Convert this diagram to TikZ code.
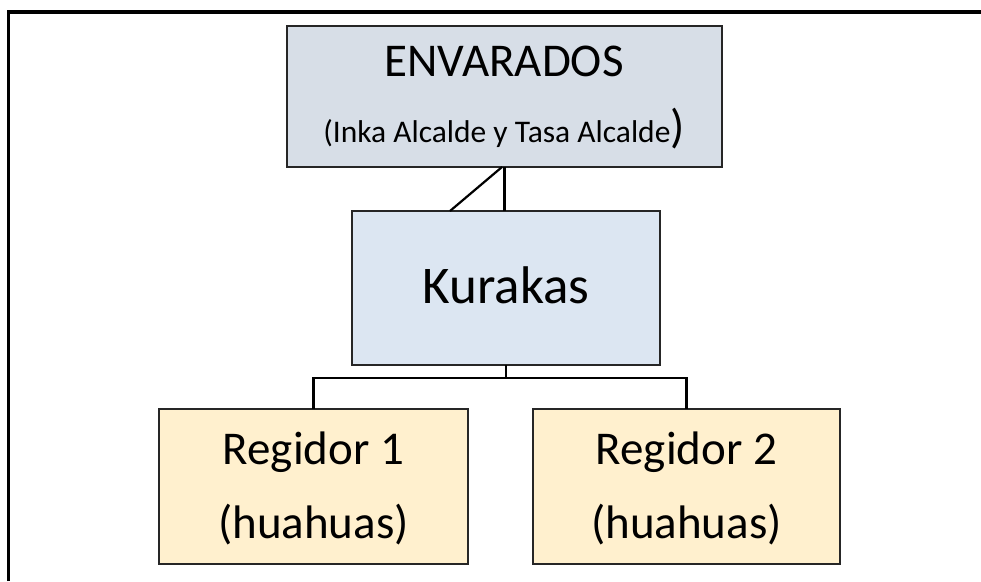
\documentclass[tikz,border=0pt]{standalone}
\usepackage{fontspec}
\setmainfont{Carlito}
\definecolor{envfill}{HTML}{D7DEE7}
\definecolor{kurfill}{HTML}{DCE6F2}
\definecolor{regfill}{HTML}{FFF0CE}
\definecolor{edge}{HTML}{262626}
\tikzset{
  box/.style={draw=edge, line width=2.2pt, inner sep=0pt, outer sep=0pt},
  txt/.style={anchor=base, inner sep=0pt, text=black},
  conn/.style={draw=black, line width=2.2pt},
  frame/.style={draw=black, line width=3.2pt}
}
\begin{document}
\begin{tikzpicture}[x=1pt,y=-1pt]
\useasboundingbox (0,0) rectangle (981,581);
% frame lines
\coordinate (fa) at (8.5,581);
\coordinate (fb) at (8.5,12);
\coordinate (fc) at (981,12);
\draw[frame] (fa) -- (fb) -- (fc);
% boxes
\node[box, fill=envfill, minimum width=435pt, minimum height=141pt] (env) at (504.5,96.5) {};
\node[box, fill=kurfill, minimum width=308pt, minimum height=154pt] (kur) at (506,288) {};
\node[box, fill=regfill, minimum width=309pt, minimum height=155pt] (r1) at (313.5,486.5) {};
\node[box, fill=regfill, minimum width=307pt, minimum height=155pt] (r2) at (686.5,486.5) {};
% texts
\node[txt, font=\fontsize{47}{50}\selectfont] (t1) at (504,76) {ENVARADOS};
\node[txt, font=\fontsize{31.5}{34}\selectfont] (t2) at (504,142) {(Inka Alcalde y Tasa Alcalde\fontsize{47}{50}\selectfont)};
\node[txt, font=\fontsize{53}{56}\selectfont] (t3) at (506,303) {Kurakas};
\node[txt, font=\fontsize{47}{50}\selectfont] (t4) at (313.5,464) {Regidor 1};
\node[txt, font=\fontsize{47}{50}\selectfont] (t5) at (313.5,538) {(huahuas)};
\node[txt, font=\fontsize{47}{50}\selectfont] (t6) at (686.5,464) {Regidor 2};
\node[txt, font=\fontsize{47}{50}\selectfont] (t7) at (686.5,538) {(huahuas)};
% connectors
\draw[conn] (env.south) -- (env.south |- kur.north);
\draw[conn] ([xshift=-2.5pt]env.south) -- ([xshift=-56pt]kur.north);
\draw[conn] (kur.south) -- ++(0,13) -| (r1.north);
\draw[conn] (kur.south) -- ++(0,13) -| (r2.north);
\end{tikzpicture}
\end{document}
